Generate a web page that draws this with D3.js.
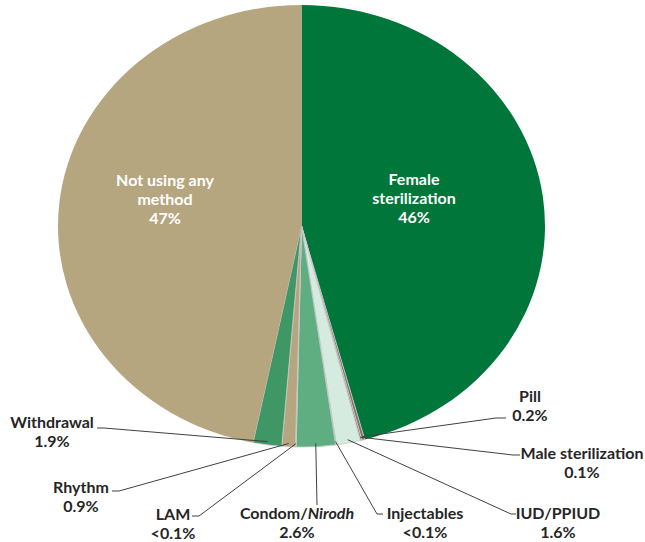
<!DOCTYPE html>
<html>
<head>
<meta charset="utf-8">
<script src="https://cdn.jsdelivr.net/npm/d3@7"></script>
<style>
  html, body { margin: 0; padding: 0; background: #fff; }
  svg { display: block; }
  text { font-family: Lato, "Open Sans", sans-serif; font-weight: bold; font-size: 16px; }
</style>
</head>
<body>
<svg id="chart" width="645" height="542"></svg>
<script>
// Contraceptive method mix (percent of women), clockwise from 12 o'clock
const methods = ["Female sterilization", "Pill", "Male sterilization", "IUD/PPIUD", "Injectables",
                 "Condom/Nirodh", "LAM", "Rhythm", "Withdrawal", "Not using any method"];
const shares  = [46, 0.2, 0.1, 1.6, 0.05, 2.6, 0.05, 0.9, 1.9, 47];
const shareLabels = ["46%", "0.2%", "0.1%", "1.6%", "<0.1%", "2.6%", "<0.1%", "0.9%", "1.9%", "47%"];
const sliceColors = ["#00763A", "#8C7560", "#6E6E6E", "#D6EBE0", "#9FCDB3",
                     "#5FAE82", "#C9BA98", "#B6A680", "#3E9764", "#B6A680"];

const svg = d3.select("#chart");
const cx = 301.5, cy = 226, r = 243.5, squash = 0.908;

const data = methods.map((m, i) => ({ method: m, value: shares[i], label: shareLabels[i], color: sliceColors[i] }));
const pie = d3.pie().value(d => d.value).sort(null);
const arcs = pie(data);
const arc = d3.arc().innerRadius(0).outerRadius(r);

// The pie is drawn as a circle, then flattened vertically into an ellipse
const pieG = svg.append("g").attr("transform", `translate(${cx},${cy}) scale(1,${squash})`);
pieG.selectAll("path").data(arcs).join("path")
  .attr("d", arc)
  .attr("fill", d => d.data.color)
  .attr("stroke", d => d.data.value < 5 ? "#c9c9c9" : "none")
  .attr("stroke-width", 0.8)
  .attr("vector-effect", "non-scaling-stroke");

// Point on the ellipse rim at a slice's middle angle
function rimPoint(a, k = 1) {
  const m = (a.startAngle + a.endAngle) / 2;
  return [cx + r * k * Math.sin(m), cy - r * k * Math.cos(m) * squash];
}

// Labels inside the two large slices
const inside = [
  { idx: 9, x: 165, y: 186, lines: ["Not using any", "method"] },
  { idx: 0, x: 414, y: 185, lines: ["Female", "sterilization"] }
];
inside.forEach(l => {
  const t = svg.append("text").attr("fill", "#fff").attr("text-anchor", "middle");
  l.lines.concat([arcs[l.idx].data.label]).forEach((s, j) => {
    t.append("tspan").attr("x", l.x).attr("y", l.y + j * 19).text(s);
  });
});

// Callout labels for the small slices: text block position and leader elbow
const callouts = [
  { idx: 1, tx: 530, ty: 402, lines: ["Pill"], gap: 19, elbow: [[496, 418], [506, 418]] },
  { idx: 2, tx: 582, ty: 459, lines: ["Male sterilization"], gap: 19, elbow: [[513, 455], [520, 455]] },
  { idx: 3, tx: 558, ty: 519, lines: ["IUD/PPIUD"], gap: 19, elbow: [[511, 514], [516, 514]] },
  { idx: 4, tx: 425, ty: 519, lines: ["Injectables"], gap: 19, elbow: [[377, 514], [383, 514]] },
  { idx: 5, tx: 297, ty: 519, lines: ["Condom/", "Nirodh"], gap: 19, elbow: [[317, 505]] },
  { idx: 6, tx: 173, ty: 520, lines: ["LAM"], gap: 19, elbow: [[199, 516], [192, 516]] },
  { idx: 7, tx: 81, ty: 493, lines: ["Rhythm"], gap: 19, elbow: [[119, 491], [112, 491]] },
  { idx: 8, tx: 52, ty: 428, lines: ["Withdrawal"], gap: 19, elbow: [[104, 428], [97, 428]] }
];

const line = d3.line();
callouts.forEach(c => {
  const pts = [rimPoint(arcs[c.idx], 0.985)].concat(c.elbow);
  svg.append("path").attr("d", line(pts))
    .attr("fill", "none").attr("stroke", "#404040").attr("stroke-width", 1);

  const t1 = svg.append("text").attr("fill", "#262626").attr("text-anchor", "middle")
    .attr("x", c.tx).attr("y", c.ty);
  if (c.lines.length === 2) {
    t1.append("tspan").text(c.lines[0]);
    t1.append("tspan").attr("font-style", "italic").text(c.lines[1]);
  } else {
    t1.text(c.lines[0]);
  }
  svg.append("text").attr("fill", "#262626").attr("text-anchor", "middle")
    .attr("x", c.tx).attr("y", c.ty + c.gap).text(arcs[c.idx].data.label);
});
</script>
</body>
</html>
